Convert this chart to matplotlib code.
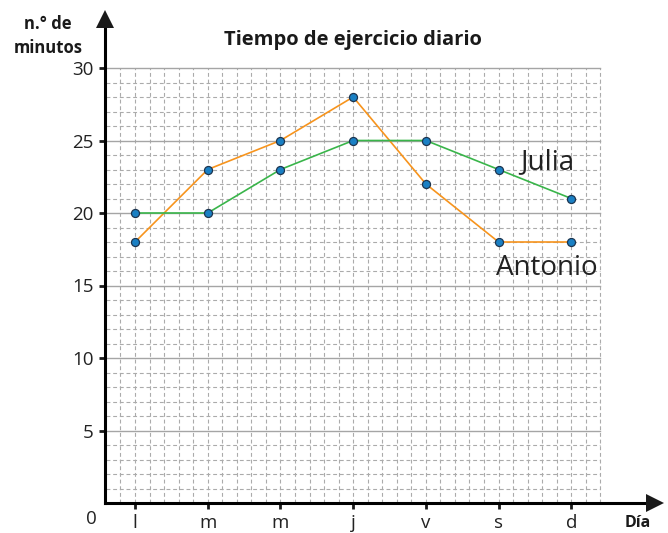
import numpy as np
import matplotlib.pyplot as plt

plt.rcParams['font.family'] = ['Open Sans', 'DejaVu Sans']

# datos
dias = ['l', 'm', 'm', 'j', 'v', 's', 'd']
antonio = [18, 23, 25, 28, 22, 18, 18]
julia = [20, 20, 23, 25, 25, 23, 21]
y_ticks = [5, 10, 15, 20, 25, 30]

x = np.arange(len(dias))

fig = plt.figure(figsize=(6.68, 5.33), dpi=100)
ax = fig.add_axes([105/668, 30/533, 555/668, 493/533])
ax.set_xlim(-0.413, 7.22)
ax.set_ylim(0, 34)

# cuadricula (dashed cada unidad / cada 0.2 dias)
gx0, gx1 = -0.4, 6.4
for gx in np.arange(gx0, gx1 + 0.01, 0.2)[1:]:
    ax.plot([gx, gx], [0, 30], color='#ababab', lw=0.8, ls=(0, (3.5, 2.5)), zorder=1)
for gy in range(1, 31):
    if gy % 5 == 0:
        ax.plot([gx0, gx1], [gy, gy], color='#a5a5a5', lw=1.0, zorder=1)
    else:
        ax.plot([gx0, gx1], [gy, gy], color='#ababab', lw=0.8, ls=(0, (3.5, 2.5)), zorder=1)

# series
ax.plot(x, antonio, color='#f7941d', lw=1.2, zorder=3)
ax.plot(x, julia, color='#39b54a', lw=1.2, zorder=3)
ax.plot(x, antonio, 'o', ms=5.8, mfc='#1a80c4', mec='#1d3550', mew=0.9, zorder=4)
ax.plot(x, julia, 'o', ms=5.8, mfc='#1a80c4', mec='#1d3550', mew=0.9, zorder=4)

# ejes
for s in ['top', 'right']:
    ax.spines[s].set_visible(False)
ax.spines['left'].set_linewidth(2.2)
ax.spines['bottom'].set_linewidth(2.2)
ax.spines['left'].set_bounds(0, 33.2)
ax.spines['bottom'].set_bounds(-0.413, 7.0)
ax.plot([7.15], [0], marker='>', ms=13, color='#1a1a1a', clip_on=False, markeredgewidth=0,
        zorder=5)
ax.plot([-0.413], [33.4], marker='^', ms=13, color='#1a1a1a', clip_on=False, markeredgewidth=0,
        zorder=5)

ax.set_yticks(y_ticks)
ax.set_yticklabels([str(v) for v in y_ticks], fontsize=13.5, color='#222222')
ax.set_xticks(x)
ax.set_xticklabels(dias, fontsize=13.5, color='#222222')
ax.tick_params(axis='both', length=4, width=2, color='#1a1a1a', pad=4)

ax.text(-0.6, -0.5, '0', fontsize=13.5, ha='center', va='top', color='#222222', clip_on=False)

ax.text(3, 31.9, 'Tiempo de ejercicio diario', fontsize=14.5, fontweight='bold',
        ha='center', va='center', color='#1a1a1a')
ax.text(-1.2, 32.2, 'n.° de\nminutos', fontsize=12, fontweight='bold', ha='center',
        va='center', color='#1a1a1a', linespacing=1.45, clip_on=False)
ax.text(6.92, -1.38, 'Día', fontsize=11.5, fontweight='bold', ha='center', va='center',
        color='#1a1a1a', clip_on=False)

ax.text(5.3, 23.5, 'Julia', fontsize=20, ha='left', va='center', color='#222222')
ax.text(4.97, 16.2, 'Antonio', fontsize=20, ha='left', va='center', color='#222222')

fig.savefig('out.png', dpi=100)
